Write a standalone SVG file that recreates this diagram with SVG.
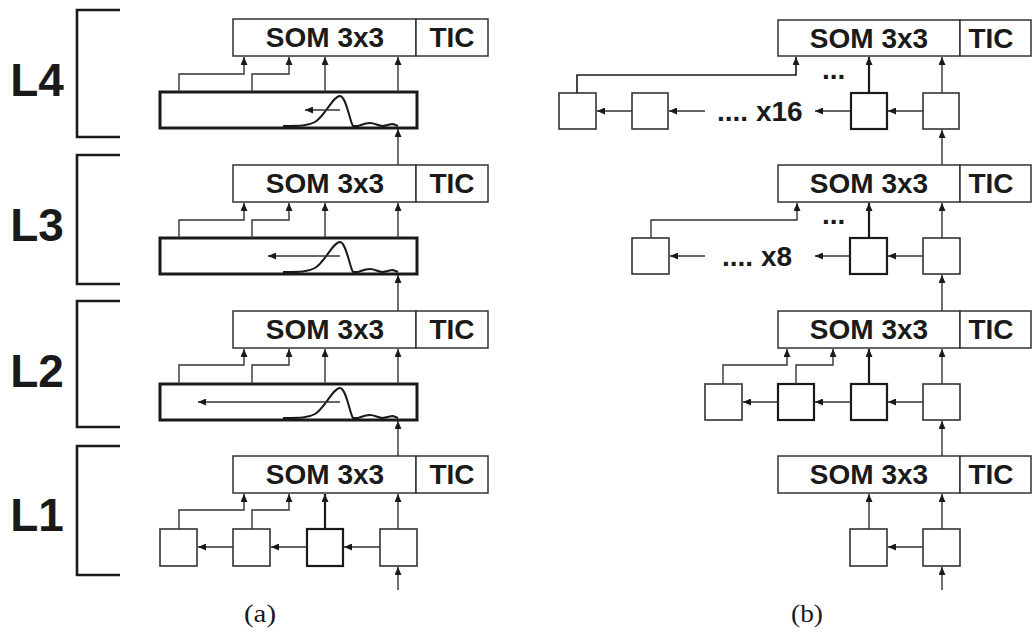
<svg xmlns="http://www.w3.org/2000/svg" width="1033" height="633" viewBox="0 0 1033 633">
<defs>
<marker id="ah" markerUnits="userSpaceOnUse" markerWidth="9" markerHeight="7" refX="8" refY="3.5" orient="auto">
<path d="M0,0 L8,3.5 L0,7 z" fill="#1a1a1a"/>
</marker>
</defs>
<style>
.box{fill:#fff;stroke:#333;stroke-width:1.5}
.sq{fill:#fff;stroke:#333;stroke-width:1.6}
.sqb{fill:#fff;stroke:#1a1a1a;stroke-width:2.2}
.buf{fill:#fff;stroke:#1a1a1a;stroke-width:3}
.lab{font-family:"Liberation Sans",Arial,sans-serif;font-weight:bold;font-size:28px;fill:#1a1a1a}
.big{font-family:"Liberation Sans",Arial,sans-serif;font-weight:bold;font-size:46px;fill:#1a1a1a;text-anchor:middle}
.cap{font-family:"Liberation Serif","Times New Roman",serif;font-size:25px;fill:#1a1a1a;text-anchor:middle}
.mid{text-anchor:middle}
.c{fill:none;stroke:#333;stroke-width:1.4;marker-end:url(#ah)}
.ct{fill:none;stroke:#1a1a1a;stroke-width:2.2;marker-end:url(#ah)}
.wave{fill:none;stroke:#1a1a1a;stroke-width:2}
.br{fill:none;stroke:#1a1a1a;stroke-width:2.6}
</style>

<g id="brackets">
<path class="br" d="M120,10 H77 V137 H120"/>
<path class="br" d="M120,155 H77 V284 H120"/>
<path class="br" d="M120,301 H77 V427 H120"/>
<path class="br" d="M120,446 H77 V575 H120"/>
<text class="big" x="37" y="96">L4</text>
<text class="big" x="37" y="241">L3</text>
<text class="big" x="37" y="387">L2</text>
<text class="big" x="37" y="531">L1</text>
</g>

<!-- Left column (a) -->
<g id="a-L4-som"><rect class="box" x="233" y="19" width="183" height="37"/><text class="lab mid" x="325" y="47">SOM 3x3</text></g>
<g id="a-L4-tic"><rect class="box" x="416" y="19" width="72" height="37"/><text class="lab mid" x="452" y="47">TIC</text></g>
<g id="a-L4-buf"><rect class="buf" x="160" y="92" width="257" height="36"/>
<path class="wave" d="M283,126 C300,126 308,126 315,122 C325,116 333,96 340,96 C346,96 350,122 353,126 L358,126 C362,125 364,123 370,123 C375,123 378,126 383,126 C388,125 390,124 393,124 L398,126"/></g>

<g id="a-L3-som"><rect class="box" x="233" y="165" width="183" height="37"/><text class="lab mid" x="325" y="193">SOM 3x3</text></g>
<g id="a-L3-tic"><rect class="box" x="416" y="165" width="72" height="37"/><text class="lab mid" x="452" y="193">TIC</text></g>
<g id="a-L3-buf"><rect class="buf" x="160" y="238" width="257" height="36"/>
<path class="wave" d="M283,272 C300,272 308,272 315,268 C325,262 333,242 340,242 C346,242 350,268 353,272 L358,272 C362,271 364,269 370,269 C375,269 378,272 383,272 C388,271 390,270 393,270 L398,272"/></g>

<g id="a-L2-som"><rect class="box" x="233" y="311" width="183" height="37"/><text class="lab mid" x="325" y="339">SOM 3x3</text></g>
<g id="a-L2-tic"><rect class="box" x="416" y="311" width="72" height="37"/><text class="lab mid" x="452" y="339">TIC</text></g>
<g id="a-L2-buf"><rect class="buf" x="160" y="384" width="257" height="36"/>
<path class="wave" d="M283,418 C300,418 308,418 315,414 C325,408 333,388 340,388 C346,388 350,414 353,418 L358,418 C362,417 364,415 370,415 C375,415 378,418 383,418 C388,417 390,416 393,416 L398,418"/></g>

<g id="a-L1-som"><rect class="box" x="233" y="456" width="183" height="37"/><text class="lab mid" x="325" y="484">SOM 3x3</text></g>
<g id="a-L1-tic"><rect class="box" x="416" y="456" width="72" height="37"/><text class="lab mid" x="452" y="484">TIC</text></g>
<g id="a-L1-s1"><rect class="sq" x="160" y="529" width="37" height="37"/></g>
<g id="a-L1-s2"><rect class="sq" x="233" y="529" width="37" height="37"/></g>
<g id="a-L1-s3"><rect class="sqb" x="307" y="529" width="36" height="37"/></g>
<g id="a-L1-s4"><rect class="sq" x="380" y="529" width="37" height="37"/></g>

<!-- Right column (b) -->
<g id="b-L4-som"><rect class="box" x="778" y="20" width="182" height="36"/><text class="lab mid" x="869" y="48">SOM 3x3</text></g>
<g id="b-L4-tic"><rect class="box" x="960" y="20" width="71" height="36"/><text class="lab mid" x="991" y="48">TIC</text></g>
<g id="b-L4-s1"><rect class="sq" x="559" y="93" width="37" height="36"/></g>
<g id="b-L4-s2"><rect class="sq" x="632" y="93" width="36" height="36"/></g>
<g id="b-L4-s3"><rect class="sqb" x="851" y="93" width="36" height="36"/></g>
<g id="b-L4-s4"><rect class="sq" x="923" y="93" width="36" height="36"/></g>
<text class="lab" x="717" y="121">.... x16</text>
<text class="lab" x="822" y="79">...</text>

<g id="b-L3-som"><rect class="box" x="778" y="165" width="182" height="37"/><text class="lab mid" x="869" y="193">SOM 3x3</text></g>
<g id="b-L3-tic"><rect class="box" x="960" y="165" width="71" height="37"/><text class="lab mid" x="991" y="193">TIC</text></g>
<g id="b-L3-s1"><rect class="sq" x="632" y="238" width="37" height="36"/></g>
<g id="b-L3-s3"><rect class="sqb" x="850" y="238" width="37" height="36"/></g>
<g id="b-L3-s4"><rect class="sq" x="923" y="238" width="37" height="36"/></g>
<text class="lab" x="722" y="266">.... x8</text>
<text class="lab" x="822" y="224">...</text>

<g id="b-L2-som"><rect class="box" x="778" y="311" width="182" height="37"/><text class="lab mid" x="869" y="339">SOM 3x3</text></g>
<g id="b-L2-tic"><rect class="box" x="960" y="311" width="71" height="37"/><text class="lab mid" x="991" y="339">TIC</text></g>
<g id="b-L2-s1"><rect class="sq" x="705" y="384" width="37" height="36"/></g>
<g id="b-L2-s2"><rect class="sqb" x="778" y="384" width="36" height="36"/></g>
<g id="b-L2-s3"><rect class="sqb" x="851" y="384" width="36" height="36"/></g>
<g id="b-L2-s4"><rect class="sq" x="923" y="384" width="37" height="36"/></g>

<g id="b-L1-som"><rect class="box" x="778" y="456" width="182" height="37"/><text class="lab mid" x="869" y="484">SOM 3x3</text></g>
<g id="b-L1-tic"><rect class="box" x="960" y="456" width="71" height="37"/><text class="lab mid" x="991" y="484">TIC</text></g>
<g id="b-L1-s1"><rect class="sq" x="850" y="529" width="37" height="37"/></g>
<g id="b-L1-s2"><rect class="sq" x="923" y="529" width="37" height="37"/></g>

<g id="connectors">
<!-- left L4 -->
<path class="c" d="M179,92 V74 H244 V57"/>
<path class="c" d="M252,92 V74 H289 V57"/>
<path class="c" d="M325,92 V57"/>
<path class="c" d="M398,92 V57"/>
<path class="c" d="M340,110 H305"/>
<path class="c" d="M398,165 V129"/>
<!-- left L3 -->
<path class="c" d="M179,238 V220 H244 V203"/>
<path class="c" d="M252,238 V220 H289 V203"/>
<path class="c" d="M325,238 V203"/>
<path class="c" d="M398,238 V203"/>
<path class="c" d="M340,256 H268"/>
<path class="c" d="M398,311 V275"/>
<!-- left L2 -->
<path class="c" d="M179,384 V365 H244 V349"/>
<path class="c" d="M252,384 V365 H289 V349"/>
<path class="c" d="M325,384 V349"/>
<path class="c" d="M398,384 V349"/>
<path class="c" d="M340,402 H198"/>
<path class="c" d="M398,456 V421"/>
<!-- left L1 -->
<path class="c" d="M179,529 V510 H244 V494"/>
<path class="c" d="M252,529 V510 H289 V494"/>
<path class="ct" d="M325,529 V494"/>
<path class="c" d="M398,529 V494"/>
<path class="c" d="M233,547 H198"/>
<path class="c" d="M307,547 H271"/>
<path class="c" d="M380,547 H344"/>
<path class="c" d="M398,590 V567"/>
<!-- right L4 -->
<path class="ct" d="M577,93 V75 H796 V57" style="stroke-width:1.6"/>
<path class="ct" d="M869,93 V57"/>
<path class="c" d="M942,93 V57"/>
<path class="c" d="M632,111 H597"/>
<path class="c" d="M705,111 H669"/>
<path class="c" d="M850,111 H815"/>
<path class="c" d="M923,111 H888"/>
<path class="c" d="M942,165 V130"/>
<!-- right L3 -->
<path class="c" d="M651,238 V220 H797 V203"/>
<path class="ct" d="M869,238 V203"/>
<path class="c" d="M942,238 V203"/>
<path class="c" d="M705,256 H670"/>
<path class="c" d="M850,256 H815"/>
<path class="c" d="M923,256 H888"/>
<path class="c" d="M942,311 V275"/>
<!-- right L2 -->
<path class="c" d="M723,384 V365 H787 V349"/>
<path class="c" d="M796,384 V365 H833 V349"/>
<path class="ct" d="M869,384 V349"/>
<path class="c" d="M942,384 V349"/>
<path class="c" d="M778,402 H743"/>
<path class="c" d="M851,402 H815"/>
<path class="c" d="M923,402 H888"/>
<path class="c" d="M942,456 V421"/>
<!-- right L1 -->
<path class="c" d="M869,529 V494"/>
<path class="c" d="M942,529 V494"/>
<path class="c" d="M923,547 H888"/>
<path class="c" d="M942,590 V567"/>
</g>

<text class="cap" x="260" y="622" textLength="32" lengthAdjust="spacingAndGlyphs">(a)</text>
<text class="cap" x="807" y="622" textLength="32" lengthAdjust="spacingAndGlyphs">(b)</text>
</svg>
